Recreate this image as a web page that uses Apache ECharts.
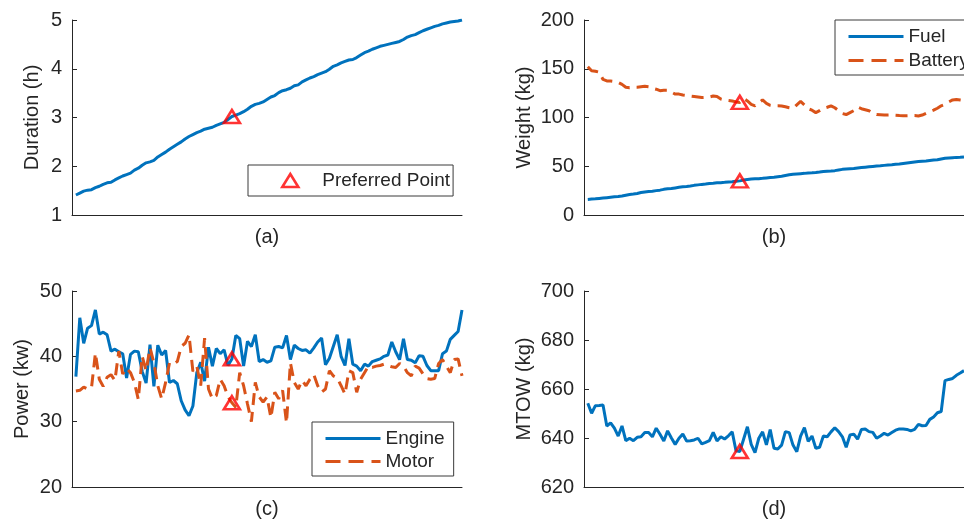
<!DOCTYPE html>
<html>
<head>
<meta charset="utf-8">
<script src="https://cdn.jsdelivr.net/npm/echarts@6/dist/echarts.min.js"></script>
<style>
  html, body { margin: 0; padding: 0; background: #ffffff; }
  #chart { width: 964px; height: 523px; }
</style>
</head>
<body>
<div id="chart"></div>
<script>
// Design-space samples 1..100; index 41 is the preferred design.
const sampleCount = 100;
const preferredIndex = 41;

// (a) mission duration, h
const durationH = [1.41,1.45,1.49,1.51,1.52,1.56,1.59,1.63,1.66,1.67, 1.72,1.76,1.80,1.83,1.86,1.92,1.96,2.02,2.07,2.09,
  2.12,2.19,2.24,2.29,2.35,2.40,2.45,2.50,2.56,2.61, 2.65,2.69,2.72,2.76,2.78,2.80,2.84,2.87,2.90,2.96,
  3.02,3.05,3.08,3.12,3.17,3.23,3.27,3.29,3.32,3.37, 3.42,3.45,3.51,3.55,3.57,3.60,3.65,3.67,3.73,3.77,
  3.81,3.84,3.88,3.91,3.94,3.99,4.05,4.08,4.12,4.15, 4.18,4.19,4.23,4.28,4.33,4.36,4.40,4.43,4.46,4.48,
  4.50,4.52,4.54,4.56,4.60,4.65,4.68,4.70,4.74,4.78, 4.81,4.84,4.87,4.89,4.92,4.94,4.96,4.97,4.98,5.00];

// (b) fuel and battery weight, kg
const fuelKg = [16.0,16.3,16.6,17.0,17.4,17.8,18.2,18.6,19.0,19.5, 20.3,21.0,21.5,22.1,23.0,23.6,24.0,24.4,25.0,25.5,
  26.3,26.9,27.2,27.8,28.4,28.9,29.3,29.8,30.4,30.9, 31.4,31.8,32.3,32.6,33.0,33.2,33.5,33.9,34.2,34.6,
  35.0,35.8,36.4,36.9,37.2,37.3,37.6,38.0,38.4,38.8, 39.3,39.8,40.5,41.2,41.7,42.1,42.4,42.7,43.1,43.3,
  43.6,44.0,44.5,44.8,45.1,45.5,46.2,46.8,47.1,47.4, 47.7,48.2,48.6,49.0,49.4,49.8,50.2,50.5,50.9,51.3,
  51.6,52.0,52.4,52.9,53.4,53.9,54.4,54.8,55.2,55.5, 55.9,56.3,56.6,57.5,58.2,58.5,58.8,59.1,59.3,59.6];
const batteryKg = [152,148,147.5,146.5,139,137.5,137.5,137,136,134, 131,130.5,131,131,131.5,132,131.5,130,129,127.5,
  128,128,126,124,124,123,122.5,122,121.5,121, 120.5,120.7,121,122,121.5,119,118,117.5,117,116,
  115.5,119.5,117,113.5,112,115,118,114.5,112.5,112, 112,111.8,111,110,109.3,113,116.5,113,109,107.5,
  105,107,109.4,110.5,112,110,107,104,103,105, 107,110.7,109,108,107,104.5,103,102.8,102.6,102.5,
  102.6,102.3,102,101.8,101.9,102,102,101.5,102.5,104.3, 106,107.5,109.5,112,113.5,116,118,118.5,118,117.5];

// (c) engine and motor power, kW
const engineKw = [36.9,45.9,42.0,44.3,44.7,47.1,43.4,43.7,43.3,40.8, 41.1,40.7,40.4,36.7,40.3,40.8,40.7,37.7,35.9,41.8,
  35.4,41.7,40.2,40.9,36.0,36.3,35.8,33.2,31.8,30.9, 32.4,37.5,39.1,36.2,41.4,38.5,41.2,40.4,41.0,38.6,
  39.6,43.2,42.7,38.5,42.3,41.5,43.3,39.2,39.5,39.1, 39.3,41.4,41.5,41.3,43.2,39.5,41.7,41.2,40.9,41.0,
  40.5,41.3,42.2,42.8,38.7,39.7,41.5,43.3,40.0,38.6, 42.7,38.8,38.5,37.8,38.8,38.5,39.2,39.4,39.6,40.0,
  40.2,42.2,40.7,39.5,42.7,39.5,39.4,39.0,40.1,40.0, 38.6,37.8,37.8,37.8,40.4,40.8,42.6,43.2,43.8,47.1];
const motorKw = [34.7,34.8,35.3,35.0,35.2,40.5,36.5,35.4,36.8,37.2, 36.3,40.8,37.3,38.2,37.5,36.0,33.4,40.0,37.8,41.3,
  39.0,35.5,33.5,36.0,39.0,38.8,39.2,41.5,42.0,43.3, 37.7,38.5,35.5,42.8,35.0,33.5,34.0,36.5,35.5,33.8,
  32.9,32.2,37.5,35.5,32.7,30.0,36.0,33.8,33.0,33.8, 30.6,34.5,33.5,34.8,29.8,39.0,36.0,35.0,36.3,35.5,
  36.5,37.2,35.5,34.5,35.0,37.8,37.0,36.7,35.5,34.2, 37.8,37.5,34.5,36.5,37.5,38.5,38.3,38.5,38.6,38.8,
  38.6,38.4,38.3,38.9,38.5,37.5,37.0,38.5,38.2,37.3, 36.6,36.5,36.6,38.9,39.5,38.5,37.5,39.5,39.6,37.0];

// (d) maximum take-off weight, kg
const mtowKg = [654.2,650.1,653.2,653.3,653.5,644.9,646.2,644.0,640.8,644.9, 638.9,639.9,638.9,640.3,640.5,642.2,642.2,640.5,644.0,641.5,
  638.8,642.9,640.0,637.4,639.9,641.6,638.8,638.9,639.2,639.9, 637.6,638.2,638.9,642.3,638.8,640.5,639.6,640.9,642.5,634.8,
  634.5,639.5,644.6,637.4,634.0,639.9,642.5,637.2,643.4,635.8, 635.5,637.1,642.6,642.2,637.1,634.4,640.8,644.2,638.6,640.8,
  635.8,636.2,640.8,640.5,642.5,644.2,642.6,640.5,636.2,641.2, 641.6,639.5,643.5,643.7,642.6,642.3,639.9,640.8,641.9,641.2,
  642.2,643.2,643.7,643.7,643.5,642.9,643.5,645.6,645.0,645.1, 647.6,648.6,650.3,650.8,663.4,663.9,664.3,665.6,666.5,667.5];

// Panel captions and y-axis titles
const captions = ['(a)', '(b)', '(c)', '(d)'];
const yTitles = ['Duration (h)', 'Weight (kg)', 'Power (kw)', 'MTOW (kg)'];
const yRanges = [[1, 5, 1], [0, 200, 50], [20, 50, 10], [620, 700, 20]];

const FONT = '"Liberation Sans", Arial, Helvetica, sans-serif';
const INK = '#262626';
const BLUE = '#0072BD';
const ORANGE = '#D95319';
const RED = '#FF0000';

const pairs = arr => arr.map((v, k) => [k + 1, v]);
const pick = arr => [preferredIndex, arr[preferredIndex - 1]];

const grids = [
  { left: 72,  top: 20,  width: 390, height: 195 },
  { left: 584, top: 20,  width: 390, height: 195 },
  { left: 72,  top: 291, width: 390, height: 196 },
  { left: 584, top: 291, width: 390, height: 196 }
];
const yNameGaps = [30, 50, 40, 50];

const xAxes = grids.map((g, k) => ({
  type: 'value', gridIndex: k, min: 0, max: sampleCount,
  name: captions[k], nameLocation: 'middle', nameGap: 12,
  nameTextStyle: { color: INK, fontSize: 20, fontFamily: FONT },
  axisLine: { show: true, onZero: false, lineStyle: { color: INK, width: 1 } },
  axisTick: { show: false }, axisLabel: { show: false }, splitLine: { show: false }
}));

const yAxes = grids.map((g, k) => ({
  type: 'value', gridIndex: k,
  min: yRanges[k][0], max: yRanges[k][1], interval: yRanges[k][2],
  name: yTitles[k], nameLocation: 'middle', nameRotate: 90, nameGap: yNameGaps[k],
  nameTextStyle: { color: INK, fontSize: 20, fontFamily: FONT },
  axisLine: { show: true, lineStyle: { color: INK, width: 1 } },
  axisTick: { show: true, inside: true, length: 5, lineStyle: { color: INK, width: 1 } },
  axisLabel: { color: INK, fontSize: 20, fontFamily: FONT, margin: 10 },
  splitLine: { show: false }
}));

function line(name, data, k, color, dashed) {
  return {
    name, type: 'line', xAxisIndex: k, yAxisIndex: k, data: pairs(data),
    symbol: 'none', showSymbol: false, clip: true,
    lineStyle: { color, width: 3, type: dashed ? [12, 7] : 'solid' },
    itemStyle: { color }, z: 2
  };
}
function marks(k, pts) {
  return {
    name: 'Preferred Point', type: 'scatter', xAxisIndex: k, yAxisIndex: k, data: pts,
    symbol: 'triangle', symbolSize: [16, 13],
    itemStyle: { color: 'rgba(255,0,0,0)', borderColor: RED, borderWidth: 2.6 },
    z: 5
  };
}

const legendText = { color: INK, fontSize: 19, fontFamily: FONT };
// Line legends show only the stroke, no centre symbol
const hiddenSymbol = { color: 'rgba(0,0,0,0)', borderColor: 'rgba(0,0,0,0)', borderWidth: 0, opacity: 0 };
const option = {
  animation: false,
  backgroundColor: '#ffffff',
  grid: grids,
  xAxis: xAxes,
  yAxis: yAxes,
  legend: [
    {
      left: 248, top: 165, orient: 'vertical',
      data: [{ name: 'Preferred Point', icon: 'triangle' }],
      itemWidth: 16, itemHeight: 13, padding: [6, 3, 6, 33],
      borderColor: '#3a3a3a', borderWidth: 1, backgroundColor: '#ffffff',
      itemStyle: { color: 'rgba(255,0,0,0)', borderColor: RED, borderWidth: 2.6 },
      textStyle: Object.assign({ padding: [0, 0, 0, 19] }, legendText), selectedMode: false
    },
    {
      left: 835, top: 20, orient: 'vertical',
      data: [
        { name: 'Fuel', lineStyle: { width: 3, type: 'solid' } },
        { name: 'Battery', lineStyle: { width: 3, type: [15, 8] } }
      ],
      itemWidth: 55, itemHeight: 14, itemGap: 5, padding: [7, 12, 5, 12],
      borderColor: '#3a3a3a', borderWidth: 1, backgroundColor: '#ffffff',
      itemStyle: hiddenSymbol,
      textStyle: legendText, selectedMode: false
    },
    {
      left: 312, top: 422, orient: 'vertical',
      data: [
        { name: 'Engine', lineStyle: { width: 3, type: 'solid' } },
        { name: 'Motor', lineStyle: { width: 3, type: [15, 8] } }
      ],
      itemWidth: 55, itemHeight: 14, itemGap: 4, padding: [7, 9, 5, 12],
      borderColor: '#3a3a3a', borderWidth: 1, backgroundColor: '#ffffff',
      itemStyle: hiddenSymbol,
      textStyle: legendText, selectedMode: false
    }
  ],
  series: [
    line('Duration', durationH, 0, BLUE, false),
    marks(0, [pick(durationH)]),
    line('Fuel', fuelKg, 1, BLUE, false),
    line('Battery', batteryKg, 1, ORANGE, true),
    marks(1, [pick(fuelKg), pick(batteryKg)]),
    line('Engine', engineKw, 2, BLUE, false),
    line('Motor', motorKw, 2, ORANGE, true),
    marks(2, [pick(engineKw), pick(motorKw)]),
    line('MTOW', mtowKg, 3, BLUE, false),
    marks(3, [pick(mtowKg)])
  ]
};

const chart = echarts.init(document.getElementById('chart'), null, { renderer: 'canvas' });
chart.setOption(option);
</script>
</body>
</html>
